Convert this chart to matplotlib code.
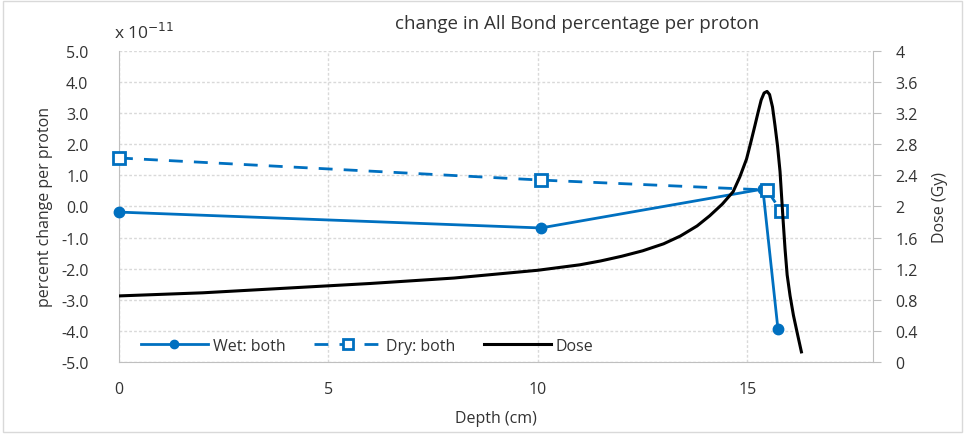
import matplotlib
matplotlib.use("Agg")
import matplotlib.pyplot as plt
from matplotlib.patches import Rectangle

plt.rcParams['font.family'] = ['Open Sans', 'DejaVu Sans']

# Daten
wet_depth = [0.0, 10.07, 15.37, 15.73]
wet_change = [-0.18, -0.69, 0.56, -3.94]

dry_depth = [0.0, 10.07, 15.47, 15.8]
dry_change = [1.56, 0.85, 0.53, -0.14]

dose_depth = [0.0, 2.0, 4.0, 6.0, 8.0, 10.0, 11.0, 11.5, 12.0, 12.5, 13.0, 13.4, 13.8,
              14.1, 14.4, 14.66, 14.82, 14.98, 15.08, 15.18, 15.26, 15.33, 15.4, 15.47,
              15.53, 15.6, 15.66, 15.72, 15.78, 15.85, 15.9, 15.95, 16.02, 16.1,
              16.2, 16.29]
dose_gy = [0.85, 0.89, 0.95, 1.01, 1.08, 1.18, 1.25, 1.30, 1.36, 1.43, 1.52, 1.62, 1.75,
           1.88, 2.03, 2.19, 2.38, 2.61, 2.82, 3.04, 3.22, 3.37, 3.46, 3.48,
           3.44, 3.28, 3.04, 2.78, 2.45, 1.85, 1.45, 1.12, 0.85, 0.6,
           0.35, 0.13]

x_ticks = [0, 5, 10, 15]
y_ticks = [-5, -4, -3, -2, -1, 0, 1, 2, 3, 4, 5]
dose_ticks = [0, 0.4, 0.8, 1.2, 1.6, 2, 2.4, 2.8, 3.2, 3.6, 4]

blue = '#0070C0'
txt = '#333333'
grid_c = '#D9D9D9'

fig = plt.figure(figsize=(9.65, 4.35), dpi=100)
ax = fig.add_axes([0.1233, 0.1655, 0.7814, 0.715])
ax2 = ax.twinx()

ax.plot(wet_depth, wet_change, color=blue, lw=2, marker='o', ms=7.5,
        label='Wet: both', zorder=3, clip_on=False)
ax.plot(dry_depth, dry_change, color=blue, lw=2, ls=(0, (5, 4)), marker='s', ms=8.5,
        mfc='white', mec=blue, mew=2, label='Dry: both', zorder=3, clip_on=False)
ax2.plot(dose_depth, dose_gy, color='black', lw=2.2, label='Dose')

ax.set_xlim(0, 18)
ax.set_ylim(-5, 5)
ax2.set_ylim(0, 4)
ax.set_xticks(x_ticks)
ax.set_yticks(y_ticks)
ax.set_yticklabels([f'{v:.1f}' for v in y_ticks])
ax2.set_yticks(dose_ticks)
ax2.set_yticklabels([f'{v:g}' for v in dose_ticks])

ax.grid(True, color=grid_c, ls=(0, (2, 1.5)), lw=1)
ax.set_axisbelow(True)

for a in (ax, ax2):
    for s in a.spines.values():
        s.set_visible(False)
ax.spines['left'].set_visible(True)
ax.spines['left'].set_color('#BFBFBF')
ax.spines['bottom'].set_visible(True)
ax.spines['bottom'].set_color('#BFBFBF')
ax2.spines['right'].set_visible(True)
ax2.spines['right'].set_color('#BFBFBF')

ax.tick_params(axis='both', length=0, labelsize=11.5, labelcolor=txt)
ax.tick_params(axis='x', pad=14)
ax.tick_params(axis='y', pad=22)
ax2.tick_params(axis='y', length=6, color='#BFBFBF', labelsize=11.5, labelcolor=txt, pad=10)

ax.set_xlabel('Depth (cm)', fontsize=11.5, color=txt, labelpad=9)
ax.set_ylabel('percent change per proton', fontsize=11.5, color=txt, labelpad=6)
ax2.set_ylabel('Dose (Gy)', fontsize=11.5, color=txt, labelpad=10)

fig.text(0.598, 0.945, 'change in All Bond percentage per proton', ha='center', va='center',
         fontsize=13.5, color=txt)
fig.text(0.118, 0.925, r'x 10$^{-11}$', ha='left', va='center', fontsize=12.5, color=txt)

h1, l1 = ax.get_legend_handles_labels()
h2, l2 = ax2.get_legend_handles_labels()
ax.legend(h1 + h2, l1 + l2, loc='lower left', bbox_to_anchor=(0.01, -0.02), ncol=3,
          frameon=False, fontsize=11.5, labelcolor=txt, handlelength=4.2,
          columnspacing=1.8, handletextpad=0.3, markerscale=0.8)

fig.patches.append(Rectangle((0.003, 0.005), 0.994, 0.99, transform=fig.transFigure,
                             fill=False, ec='#D9D9D9', lw=1))

fig.savefig('out.png', dpi=100)
